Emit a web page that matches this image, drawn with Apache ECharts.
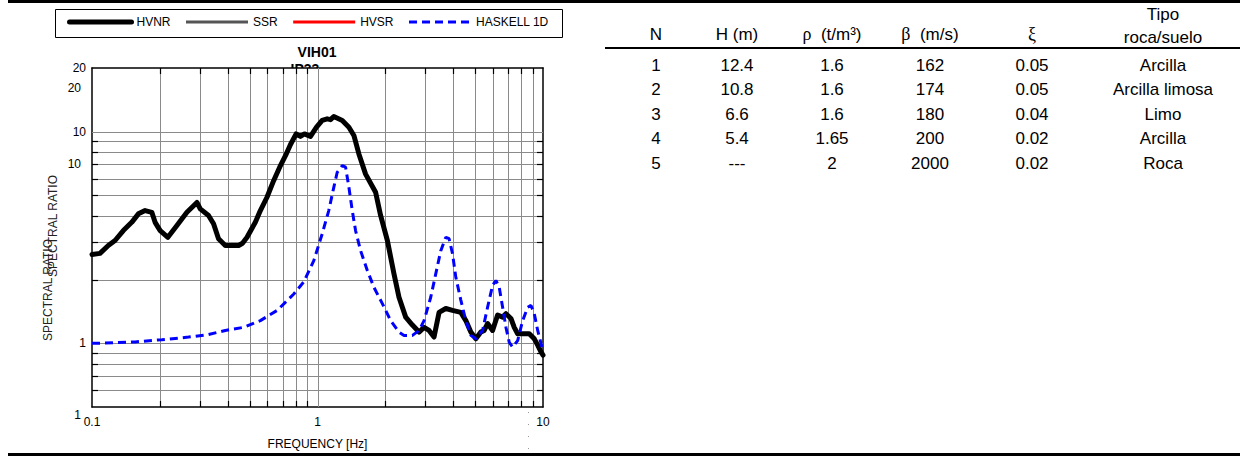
<!DOCTYPE html>
<html>
<head>
<meta charset="utf-8">
<script src="https://cdn.jsdelivr.net/npm/echarts@6/dist/echarts.min.js"></script>
<style>
  html, body { margin: 0; padding: 0; background: #fff; }
  #chart { width: 1246px; height: 456px; }
</style>
</head>
<body>
<div id="chart"></div>
<script>
// H/V noise ratio measured at station VIH01
const hvnrFreq = [0.1, 0.1085, 0.1181, 0.1265, 0.1377, 0.150, 0.1606, 0.172, 0.1842, 0.1905, 0.2006, 0.217,
  0.238, 0.2636, 0.292, 0.302, 0.3287, 0.346, 0.364, 0.390, 0.447, 0.465, 0.487, 0.530, 0.558, 0.597, 0.639,
  0.685, 0.721, 0.759, 0.804, 0.840, 0.875, 0.931, 0.990, 1.049, 1.104, 1.142, 1.181, 1.288, 1.378, 1.450,
  1.526, 1.634, 1.810, 1.905, 2.041, 2.183, 2.298, 2.461, 2.636, 2.820, 2.968, 3.124, 3.287, 3.460, 3.707,
  3.970, 4.321, 4.548, 4.786, 5.037, 5.302, 5.484, 5.678, 5.976, 6.291, 6.621, 6.849, 7.208, 7.455, 7.720,
  8.259, 8.692, 9.148, 9.472, 9.797, 10];
const hvnrRatio = [2.63, 2.66, 2.9, 3.06, 3.41, 3.73, 4.09, 4.24, 4.16, 3.73, 3.41, 3.17,
  3.6, 4.16, 4.63, 4.32, 4.02, 3.67, 3.12, 2.9, 2.9, 2.97, 3.17, 3.73, 4.24, 4.9, 5.87,
  6.92, 7.7, 8.7, 9.76, 9.5, 9.76, 9.5, 10.5, 11.3, 11.5, 11.4, 11.8, 11.3, 10.5, 9.6,
  7.85, 6.3, 5.17, 4.02, 3.06, 2.13, 1.65, 1.33, 1.22, 1.13, 1.19, 1.15, 1.07, 1.40, 1.46,
  1.43, 1.40, 1.28, 1.13, 1.05, 1.13, 1.15, 1.24, 1.15, 1.36, 1.33, 1.38, 1.31, 1.19, 1.11,
  1.11, 1.11, 1.05, 0.98, 0.91, 0.88];

// 1D Haskell transfer function of the layered profile
const haskellFreq = [0.1, 0.1085, 0.1553, 0.2041, 0.268, 0.3287, 0.390, 0.470, 0.558, 0.662, 0.785, 0.869,
  0.963, 1.049, 1.122, 1.181, 1.223, 1.288, 1.332, 1.378, 1.426, 1.475, 1.553, 1.663, 1.779, 1.939, 2.111,
  2.298, 2.419, 2.636, 2.820, 2.968, 3.178, 3.345, 3.522, 3.707, 3.834, 3.970, 4.106, 4.321, 4.548, 4.786,
  5.037, 5.395, 5.678, 5.976, 6.181, 6.395, 6.621, 6.849, 7.086, 7.337, 7.720, 8.125, 8.551, 8.846, 9.148,
  9.472, 9.797, 10];
const haskellRatio = [1.0, 1.0, 1.015, 1.04, 1.07, 1.10, 1.15, 1.19, 1.28, 1.43, 1.71, 1.95,
  2.46, 3.29, 4.24, 5.46, 6.43, 6.92, 6.8, 5.46, 4.24, 3.41, 2.74, 2.21, 1.84, 1.54, 1.28,
  1.13, 1.09, 1.09, 1.15, 1.28, 1.65, 2.13, 2.74, 3.17, 3.12, 2.65, 2.05, 1.6, 1.28, 1.09,
  1.05, 1.15, 1.48, 1.88, 1.98, 1.84, 1.48, 1.19, 1.01, 0.96, 1.03, 1.28, 1.48, 1.51, 1.38,
  1.15, 1.0, 0.91];

// grid lines and minor ticks of the log-log frame
const xGridFreqs = [0.2, 0.3, 0.4, 0.5, 0.6, 0.7, 0.8, 0.9, 1, 2, 3, 4, 5, 6, 7, 8, 9];
const xMinorFreqs = [0.2, 0.3, 0.4, 0.5, 0.6, 0.7, 0.8, 0.9, 2, 3, 4, 5, 6, 7, 8, 9];
const yGridRatios = [0.6, 0.7, 0.8, 0.9, 1, 2, 3, 4, 5, 6, 7, 8, 9, 10];
const yMinorRatios = [0.6, 0.7, 0.8, 0.9, 2, 3, 4, 5, 6, 7, 8, 9];

const legendNames = ['HVNR', 'SSR', 'HVSR', 'HASKELL 1D'];

// soil profile table
const tableHeader = ['N', 'H (m)', 'ρ  (t/m³)', 'β  (m/s)', 'ξ', 'Tipo\nroca/suelo'];
const layerN = ['1', '2', '3', '4', '5'];
const layerH = ['12.4', '10.8', '6.6', '5.4', '---'];
const layerRho = ['1.6', '1.6', '1.6', '1.65', '2'];
const layerBeta = ['162', '174', '180', '200', '2000'];
const layerXi = ['0.05', '0.05', '0.04', '0.02', '0.02'];
const layerType = ['Arcilla', 'Arcilla limosa', 'Limo', 'Arcilla', 'Roca'];

const FONT = "'Liberation Sans', Arial, sans-serif";
const SERIF = "'Liberation Serif', 'Times New Roman', serif";

const pairs = (xs, ys) => xs.map((x, i) => [x, ys[i]]);
const fmtNum = v => String(+(+v).toPrecision(3));

function vGridItem(params, api) {
  const cs = params.coordSys;
  const x = Math.round(api.coord([api.value(0), 1])[0]) + 0.5;
  return { type: 'line', shape: { x1: x, y1: cs.y, x2: x, y2: cs.y + cs.height },
    style: { stroke: '#8a8a8a', lineWidth: 1 } };
}
function hGridItem(params, api) {
  const cs = params.coordSys;
  const y = Math.round(api.coord([1, api.value(1)])[1]) + 0.5;
  return { type: 'line', shape: { x1: cs.x, y1: y, x2: cs.x + cs.width, y2: y },
    style: { stroke: '#8a8a8a', lineWidth: 1 } };
}
function xTickItem(params, api) {
  const cs = params.coordSys;
  const x = Math.round(api.coord([api.value(0), 1])[0]) + 0.5;
  const b = cs.y + cs.height;
  const st = { stroke: '#000', lineWidth: 1.2 };
  return { type: 'group', children: [
    { type: 'line', shape: { x1: x, y1: b, x2: x, y2: b - 6 }, style: st },
    { type: 'line', shape: { x1: x, y1: cs.y, x2: x, y2: cs.y + 6 }, style: st }
  ] };
}
function yTickItem(params, api) {
  const cs = params.coordSys;
  const y = Math.round(api.coord([1, api.value(1)])[1]) + 0.5;
  const r = cs.x + cs.width;
  const st = { stroke: '#000', lineWidth: 1.2 };
  return { type: 'group', children: [
    { type: 'line', shape: { x1: cs.x, y1: y, x2: cs.x + 6, y2: y }, style: st },
    { type: 'line', shape: { x1: r, y1: y, x2: r - 6, y2: y }, style: st }
  ] };
}

// table graphics
const colX = [656, 737, 832, 930, 1032, 1163];
const rowY0 = 65, rowStep = 24.5;
const TFONT = '17px ' + FONT;
const tableEls = [];
tableHeader.forEach((h, i) => {
  if (i === 5) {
    const parts = h.split('\n');
    tableEls.push({ type: 'text', x: colX[i], y: 14, style: { text: parts[0], align: 'center', verticalAlign: 'middle', font: TFONT, fill: '#000' } });
    tableEls.push({ type: 'text', x: colX[i], y: 37, style: { text: parts[1], align: 'center', verticalAlign: 'middle', font: TFONT, fill: '#000' } });
  } else if (i === 2 || i === 3 || i === 4) {
    const sym = h.charAt(0);
    const rest = h.slice(1);
    tableEls.push({ type: 'text', x: colX[i], y: 34, style: {
      text: '{g|' + sym + '}' + (rest ? '{t|' + rest + '}' : ''),
      align: 'center', verticalAlign: 'middle',
      rich: { g: { font: '18px ' + SERIF, fill: '#000' }, t: { font: TFONT, fill: '#000' } }
    } });
  } else {
    tableEls.push({ type: 'text', x: colX[i], y: 34, style: { text: h, align: 'center', verticalAlign: 'middle', font: TFONT, fill: '#000' } });
  }
});
tableEls.push({ type: 'rect', shape: { x: 605, y: 47, width: 635, height: 2 }, style: { fill: '#000' } });
[layerN, layerH, layerRho, layerBeta, layerXi, layerType].forEach((col, c) => {
  col.forEach((v, r) => {
    tableEls.push({ type: 'text', x: colX[c], y: rowY0 + r * rowStep,
      style: { text: v, align: 'center', verticalAlign: 'middle', font: TFONT, fill: '#000' } });
  });
});

const chart = echarts.init(document.getElementById('chart'), null, { renderer: 'svg' });

const frameLine = { show: true, lineStyle: { color: '#000', width: 1.5 } };

chart.setOption({
  animation: false,
  backgroundColor: '#fff',
  textStyle: { fontFamily: FONT },
  grid: [
    { left: 92, right: 703, top: 68, bottom: 49, show: true, backgroundColor: '#fff', borderWidth: 0 },
    { left: 92, right: 703, top: 88, bottom: 41 }
  ],
  legend: {
    data: legendNames,
    left: 67, top: 16,
    itemWidth: 62, itemHeight: 14, itemGap: 14, padding: 0,
    itemStyle: { opacity: 0 },
    lineStyle: { width: 'inherit' },
    textStyle: { fontSize: 12, color: '#000', fontFamily: FONT },
    selectedMode: false
  },
  xAxis: [
    { gridIndex: 0, type: 'log', logBase: 10, min: 0.1, max: 10,
      axisLine: frameLine, axisTick: { show: false }, splitLine: { show: false },
      axisLabel: { margin: 9, fontSize: 12, color: '#000', fontFamily: FONT, formatter: fmtNum },
      name: 'FREQUENCY [Hz]', nameLocation: 'middle', nameGap: 31,
      nameTextStyle: { fontSize: 12, color: '#000', fontFamily: FONT } },
    { gridIndex: 0, type: 'log', logBase: 10, min: 0.1, max: 10, position: 'top',
      axisLine: frameLine, axisTick: { show: false }, splitLine: { show: false }, axisLabel: { show: false } },
    { gridIndex: 1, type: 'log', logBase: 10, min: 0.1, max: 10, show: false }
  ],
  yAxis: [
    { gridIndex: 0, type: 'log', logBase: 10, min: 0.5, max: 20,
      axisLine: frameLine, axisTick: { show: false }, splitLine: { show: false },
      axisLabel: { margin: 6, fontSize: 12, color: '#000', fontFamily: FONT,
        formatter: v => (Math.abs(v - 0.5) < 1e-6 ? '' : fmtNum(v)) } },
    { gridIndex: 0, type: 'log', logBase: 10, min: 0.5, max: 20, position: 'right',
      axisLine: frameLine, axisTick: { show: false }, splitLine: { show: false }, axisLabel: { show: false } },
    { gridIndex: 1, type: 'log', logBase: 10, min: 1, max: 20,
      axisLine: { show: false }, axisTick: { show: false }, splitLine: { show: false },
      axisLabel: { margin: 11, fontSize: 12, color: '#000', fontFamily: FONT, formatter: fmtNum } }
  ],
  series: [
    { type: 'custom', name: 'vgrid', xAxisIndex: 0, yAxisIndex: 0, z: 1, silent: true,
      renderItem: vGridItem, data: xGridFreqs.map(f => [f, 1]) },
    { type: 'custom', name: 'hgrid', xAxisIndex: 0, yAxisIndex: 0, z: 1, silent: true,
      renderItem: hGridItem, data: yGridRatios.map(r => [1, r]) },
    { type: 'custom', name: 'xticks', xAxisIndex: 0, yAxisIndex: 0, z: 2, silent: true,
      renderItem: xTickItem, data: xMinorFreqs.map(f => [f, 1]) },
    { type: 'custom', name: 'yticks', xAxisIndex: 0, yAxisIndex: 0, z: 2, silent: true,
      renderItem: yTickItem, data: yMinorRatios.map(r => [1, r]) },
    { type: 'line', name: 'HVNR', xAxisIndex: 0, yAxisIndex: 0, z: 3, symbol: 'none', smooth: false,
      lineStyle: { color: '#000', width: 5, join: 'round', cap: 'round' }, itemStyle: { color: '#000' },
      data: pairs(hvnrFreq, hvnrRatio) },
    { type: 'line', name: 'SSR', xAxisIndex: 0, yAxisIndex: 0, symbol: 'none',
      lineStyle: { color: '#555', width: 3 }, itemStyle: { color: '#555' }, data: [] },
    { type: 'line', name: 'HVSR', xAxisIndex: 0, yAxisIndex: 0, symbol: 'none',
      lineStyle: { color: '#ff0000', width: 3 }, itemStyle: { color: '#ff0000' }, data: [] },
    { type: 'line', name: 'HASKELL 1D', xAxisIndex: 0, yAxisIndex: 0, z: 4, symbol: 'none',
      lineStyle: { color: '#0000ff', width: 3, type: [8, 5] }, itemStyle: { color: '#0000ff' },
      data: pairs(haskellFreq, haskellRatio) }
  ],
  graphic: [
    { type: 'rect', shape: { x: 8, y: 0, width: 1232, height: 3 }, style: { fill: '#000' } },
    { type: 'rect', shape: { x: 8, y: 453, width: 1232, height: 3 }, style: { fill: '#000' } },
    { type: 'rect', shape: { x: 55.5, y: 9.5, width: 507, height: 28 }, style: { fill: 'none', stroke: '#000', lineWidth: 1 } },
    { type: 'text', x: 317, y: 52, style: { text: 'VIH01', align: 'center', verticalAlign: 'middle', font: 'bold 14px ' + FONT, fill: '#000' } },
    { type: 'text', x: 305, y: 69, z: -1, style: { text: 'IP33', align: 'center', verticalAlign: 'middle', font: 'bold 14px ' + FONT, fill: '#000' } },
    { type: 'text', x: 53, y: 226, rotation: Math.PI / 2, style: { text: 'SPECTRAL RATIO', align: 'center', verticalAlign: 'middle', font: '12px ' + FONT, fill: '#222' } },
    { type: 'text', x: 48, y: 290, rotation: Math.PI / 2, style: { text: 'SPECTRAL RATIO', align: 'center', verticalAlign: 'middle', font: '12px ' + FONT, fill: '#222' } },
    { type: 'line', shape: { x1: 528.5, y1: 412, x2: 528.5, y2: 453 }, style: { stroke: '#999', lineWidth: 1, lineDash: [1, 11] } }
  ].concat(tableEls)
});
</script>
</body>
</html>
